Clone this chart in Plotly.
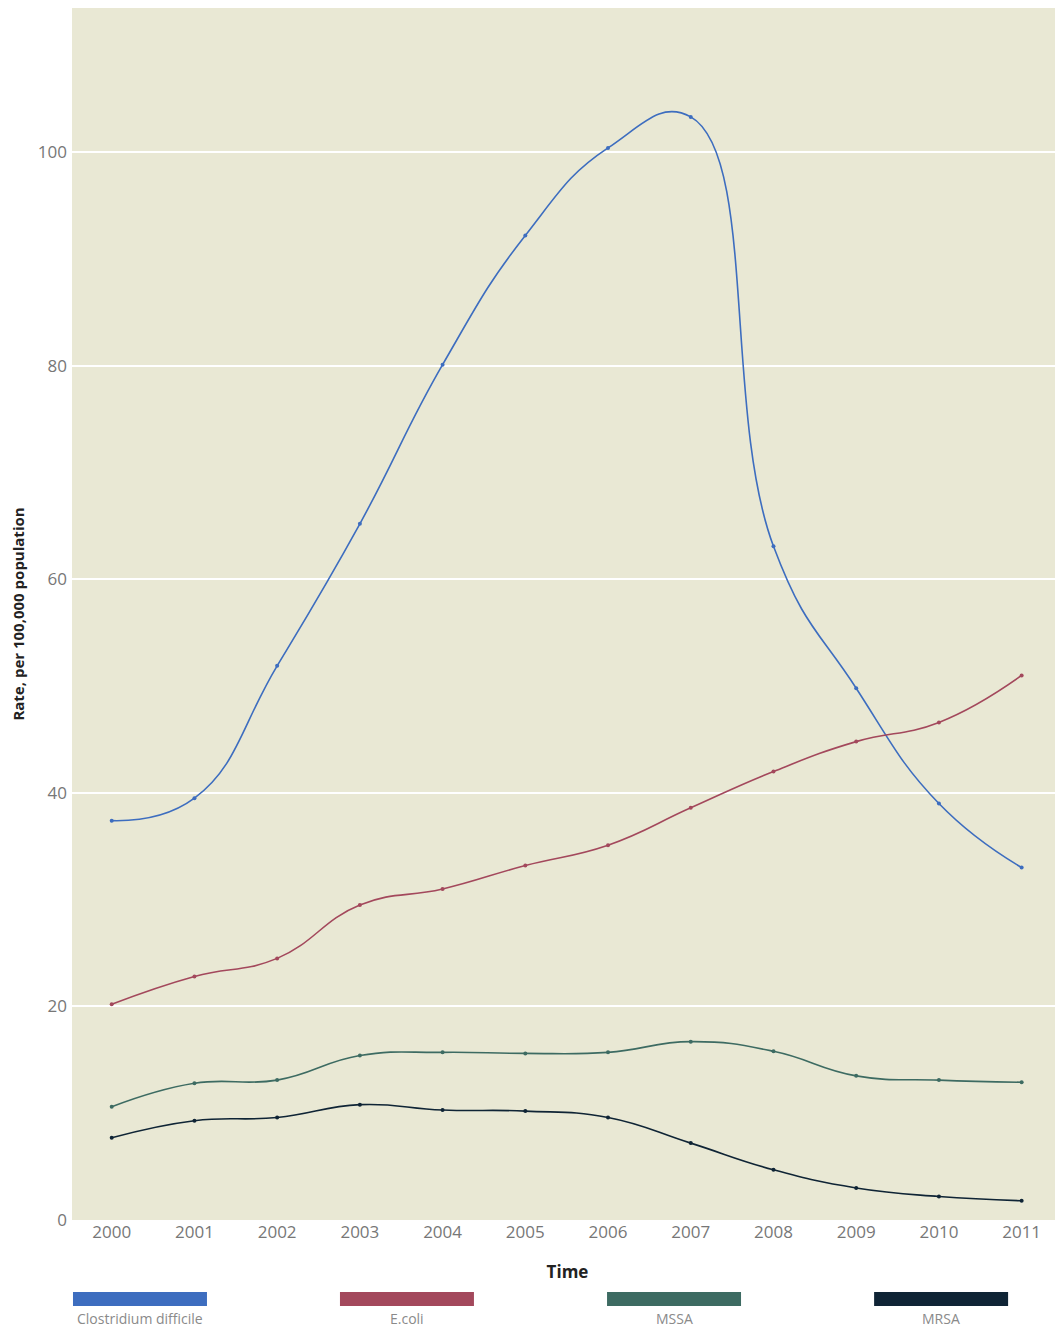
import plotly.graph_objects as go

years = list(range(2000, 2012))
series_names = ["Clostridium difficile", "E.coli", "MSSA", "MRSA"]
cdiff = [37.4, 39.5, 51.9, 65.2, 80.1, 92.2, 100.4, 103.3, 63.1, 49.8, 39.0, 33.0]
ecoli = [20.2, 22.8, 24.5, 29.5, 31.0, 33.2, 35.1, 38.6, 42.0, 44.8, 46.6, 51.0]
mssa = [10.6, 12.8, 13.1, 15.4, 15.7, 15.6, 15.7, 16.7, 15.8, 13.5, 13.1, 12.9]
mrsa = [7.7, 9.3, 9.6, 10.8, 10.3, 10.2, 9.6, 7.2, 4.7, 3.0, 2.2, 1.8]
colors = ["#3d6dbf", "#a3485c", "#3d6b62", "#0f2435"]
y_ticks = [0, 20, 40, 60, 80, 100]

fig = go.Figure()
for name, vals, col in zip(series_names, [cdiff, ecoli, mssa, mrsa], colors):
    fig.add_trace(go.Scatter(
        x=years, y=vals, name=name, mode="lines+markers",
        line=dict(color=col, width=1.6, shape="spline", smoothing=1.3),
        marker=dict(color=col, size=4),
        showlegend=False,
    ))

# custom legend below chart: swatch with label underneath
centers = [0.0686, 0.338, 0.6075, 0.877]
for name, col, cx in zip(series_names, colors, centers):
    fig.add_shape(type="rect", xref="paper", yref="paper",
                  x0=cx - 0.0676, x1=cx + 0.0676,
                  y0=-0.0710, y1=-0.0594,
                  fillcolor=col, line=dict(width=0))
    fig.add_annotation(xref="paper", yref="paper", x=cx, y=-0.0718,
                       text=name, showarrow=False, xanchor="center", yanchor="top",
                       font=dict(family="Open Sans", size=14, color="#8a8a8a"))

fig.update_layout(
    width=1055, height=1321,
    margin=dict(l=64, r=0, t=0, b=109),
    paper_bgcolor="white",
    plot_bgcolor="#e9e8d4",
    font=dict(family="Open Sans", size=17, color="#777777"),
    xaxis=dict(
        range=[1999.52, 2011.5], tickmode="array", tickvals=years,
        ticktext=[str(y) for y in years], showgrid=False, zeroline=False,
        ticks="", title=dict(text="<b>Time</b>", font=dict(size=17, color="#222222"), standoff=24),
    ),
    yaxis=dict(
        range=[0, 113.5], tickmode="array", tickvals=y_ticks,
        showgrid=True, gridcolor="#ffffff", gridwidth=1.5, zeroline=False,
        ticks="", ticklabelstandoff=4,
        title=dict(text="<b>Rate, per 100,000 population</b>", font=dict(size=15, color="#222222"), standoff=14),
    ),
)

fig.write_html("out.html")
